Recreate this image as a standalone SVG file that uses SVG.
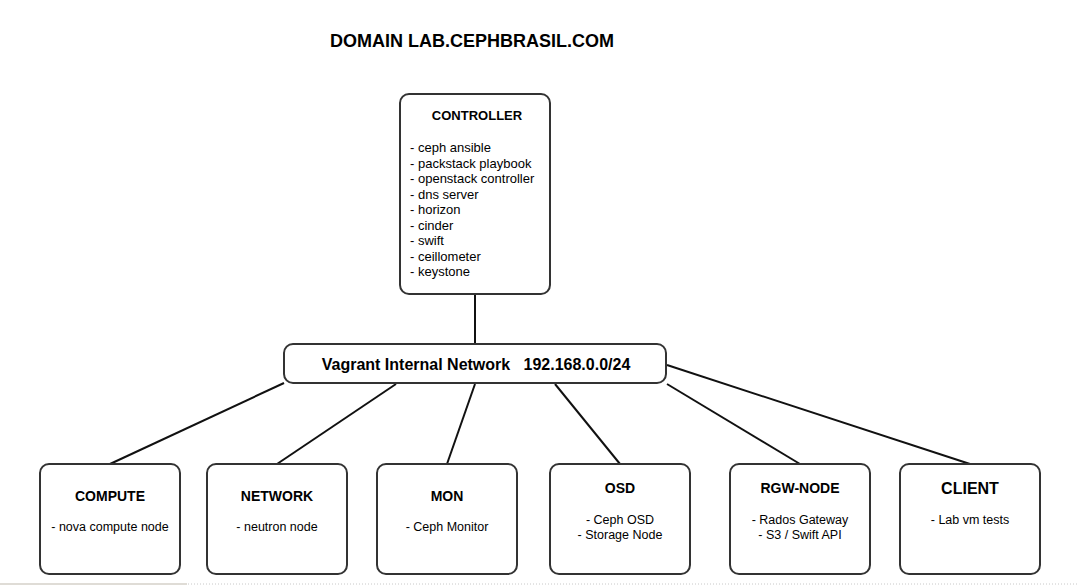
<svg xmlns="http://www.w3.org/2000/svg" width="1079" height="585" viewBox="0 0 1079 585">
<defs>
<style>
.box{fill:#fff;stroke:#333;stroke-width:2}
.t{font-family:"Liberation Sans",Arial,sans-serif;fill:#000}
.b{font-weight:bold}
.c{text-anchor:middle}
.s12{font-size:12.5px}
.s13{font-size:13px}
.s14{font-size:14px}
.s16{font-size:16px}
.ln{stroke:#111;stroke-width:2;fill:none}
</style>
</defs>
<rect width="1079" height="585" fill="#fff"/>
<line x1="0" y1="584" x2="187" y2="584" stroke="#d4d0c8" stroke-width="1.5"/>
<line x1="188" y1="584" x2="1079" y2="584" stroke="#c8c8c8" stroke-width="1" stroke-dasharray="1,2"/>
<text class="t b" font-size="18" x="472" y="47" text-anchor="middle">DOMAIN LAB.CEPHBRASIL.COM</text>
<g id="connectors">
<line class="ln" x1="475" y1="294" x2="475" y2="344"/>
<line class="ln" x1="284" y1="383" x2="110" y2="464"/>
<line class="ln" x1="396" y1="384" x2="277" y2="464"/>
<line class="ln" x1="475" y1="384" x2="447" y2="464"/>
<line class="ln" x1="555" y1="384" x2="620" y2="464"/>
<line class="ln" x1="667" y1="384" x2="800" y2="464"/>
<line class="ln" x1="667" y1="365" x2="970" y2="464"/>
</g>
<g id="controller">
<rect class="box" x="400" y="94" width="150" height="200" rx="9"/>
<text class="t b s13 c" x="477" y="120">CONTROLLER</text>
<text class="t s13" x="410">
<tspan x="410" y="152">- ceph ansible</tspan>
<tspan x="410" y="167.5">- packstack playbook</tspan>
<tspan x="410" y="183">- openstack controller</tspan>
<tspan x="410" y="198.5">- dns server</tspan>
<tspan x="410" y="214">- horizon</tspan>
<tspan x="410" y="229.5">- cinder</tspan>
<tspan x="410" y="245">- swift</tspan>
<tspan x="410" y="260.5">- ceillometer</tspan>
<tspan x="410" y="276">- keystone</tspan>
</text>
</g>
<g id="network-bar">
<rect class="box" x="284" y="344" width="382" height="39" rx="9"/>
<text class="t b s16 c" x="476" y="370" xml:space="preserve">Vagrant Internal Network   192.168.0.0/24</text>
</g>
<g id="compute">
<rect class="box" x="40" y="464" width="140" height="110" rx="9"/>
<text class="t b s14 c" x="110" y="501">COMPUTE</text>
<text class="t s12 c" x="110" y="531">- nova compute node</text>
</g>
<g id="network">
<rect class="box" x="207" y="464" width="140" height="110" rx="9"/>
<text class="t b s14 c" x="277" y="501">NETWORK</text>
<text class="t s12 c" x="277" y="531">- neutron node</text>
</g>
<g id="mon">
<rect class="box" x="377" y="464" width="140" height="110" rx="9"/>
<text class="t b s14 c" x="447" y="501">MON</text>
<text class="t s12 c" x="447" y="531">- Ceph Monitor</text>
</g>
<g id="osd">
<rect class="box" x="550" y="464" width="140" height="110" rx="9"/>
<text class="t b s14 c" x="620" y="493">OSD</text>
<text class="t s12 c" x="620" y="524">- Ceph OSD</text>
<text class="t s12 c" x="620" y="539">- Storage Node</text>
</g>
<g id="rgw-node">
<rect class="box" x="730" y="464" width="140" height="110" rx="9"/>
<text class="t b s14 c" x="800" y="493">RGW-NODE</text>
<text class="t s12 c" x="800" y="524">- Rados Gateway</text>
<text class="t s12 c" x="800" y="539">- S3 / Swift API</text>
</g>
<g id="client">
<rect class="box" x="900" y="464" width="140" height="110" rx="9"/>
<text class="t b s16 c" x="970" y="494">CLIENT</text>
<text class="t s12 c" x="970" y="524">- Lab vm tests</text>
</g>
</svg>
